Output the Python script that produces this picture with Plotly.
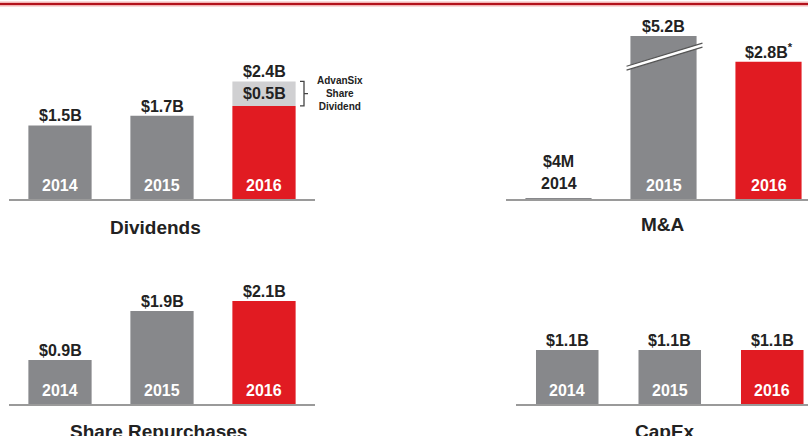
import pandas as pd
import numpy as np
import plotly.graph_objects as go
from typing import Dict

GREY = '#87888b'
RED = '#e11b22'
LIGHT_GREY = '#d0d0d2'
INK = '#222222'
FONT = 'Liberation Sans'
W, H = 808, 436
PX_PER_B = 49  # one scale for all four panels
Y_MAX = 163 / PX_PER_B

# Where each panel sits on the slide (pixels)
PANELS: Dict[str, Dict] = {
    'Dividends': {'n': 1, 'px': (9, 315), 'base': 199, 'step': 102, 'width': 0.62, 'title': (155, 227)},
    'M&A': {'n': 2, 'px': (506, 808), 'base': 199, 'step': 105, 'width': 0.63, 'title': (663, 225)},
    'Share Repurchases': {'n': 3, 'px': (9, 315), 'base': 404, 'step': 102, 'width': 0.62, 'title': (158, 431)},
    'CapEx': {'n': 4, 'px': (516, 808), 'base': 404, 'step': 102.5, 'width': 0.61, 'title': (665, 431)},
}


def build_data() -> pd.DataFrame:
    """
    Build the cash deployment table read off the slide.

    Returns:
        DataFrame with one row per panel and year (values in $B)
    """
    return pd.DataFrame({
        'panel': ['Dividends'] * 3 + ['M&A'] * 3 + ['Share Repurchases'] * 3 + ['CapEx'] * 3,
        'year': ['2014', '2015', '2016'] * 4,
        'value': [1.5, 1.7, 2.4, 0.004, 5.2, 2.8, 0.9, 1.9, 2.1, 1.1, 1.1, 1.1],
        'extra': [0, 0, 0.5, 0, 0, 0, 0, 0, 0, 0, 0, 0],  # AdvanSix share dividend
        'label': ['$1.5B', '$1.7B', '$2.4B', '$4M', '$5.2B', '$2.8B<sup>*</sup>',
                  '$0.9B', '$1.9B', '$2.1B', '$1.1B', '$1.1B', '$1.1B'],
    })


def label(fig: go.Figure, text: str, x, y, xref: str, yref: str, size: int = 16,
          color: str = INK, yanchor: str = 'bottom', yshift: float = 0) -> None:
    """Add one bold text label."""
    fig.add_annotation(
        x=x, y=y, xref=xref, yref=yref, text=text, showarrow=False,
        xanchor='center', yanchor=yanchor, yshift=yshift,
        font=dict(family=FONT, size=size, color=color, weight='bold')
    )


def add_panel(fig: go.Figure, df: pd.DataFrame, name: str, cfg: Dict) -> None:
    """
    Draw one panel of bars with its labels and title.

    Args:
        fig: Figure to draw on
        df: Rows of this panel
        name: Panel title
        cfg: Placement of the panel
    """
    n = cfg['n']
    xa, ya = ('x', 'y') if n == 1 else (f'x{n}', f'y{n}')
    pos = np.arange(len(df))
    colors = [RED if yr == '2016' else GREY for yr in df['year']]
    main = df['value'].values - df['extra'].values

    fig.add_trace(go.Bar(
        x=pos, y=main, width=cfg['width'], marker=dict(color=colors, line_width=0),
        xaxis=xa, yaxis=ya, showlegend=False, hoverinfo='skip'
    ))
    if df['extra'].sum() > 0:
        fig.add_trace(go.Bar(
            x=pos, y=df['extra'].values, base=main, width=cfg['width'],
            marker=dict(color=LIGHT_GREY, line_width=0),
            xaxis=xa, yaxis=ya, showlegend=False, hoverinfo='skip'
        ))
        for p, m, e in zip(pos, main, df['extra'].values):
            if e > 0:
                label(fig, f'${e:.1f}B', p, m + e / 2, xa, ya, yanchor='middle')

    # Value labels above bars, years inside bars
    for p, v, yr, txt in zip(pos, df['value'], df['year'], df['label']):
        top = min(v, Y_MAX)
        if v < 0.3:
            label(fig, yr, p, top, xa, ya, yshift=5)
            label(fig, txt, p, top, xa, ya, yshift=27)
        else:
            label(fig, yr, p, 0, xa, ya, color='white', yshift=3)
            label(fig, txt, p, top, xa, ya, yshift=-1)

    px0, px1 = cfg['px']
    base = cfg['base']
    fig.update_layout(**{
        ('xaxis' if n == 1 else f'xaxis{n}'): dict(
            domain=[px0 / W, px1 / W], range=[-0.5, -0.5 + (px1 - px0) / cfg['step']],
            showline=True, linecolor='#9a9a9a', linewidth=1.5, showgrid=False,
            zeroline=False, showticklabels=False, ticks='', anchor=ya, fixedrange=True
        ),
        ('yaxis' if n == 1 else f'yaxis{n}'): dict(
            domain=[1 - base / H, 1 - (base - Y_MAX * PX_PER_B) / H], range=[0, Y_MAX],
            visible=False, anchor=xa, fixedrange=True
        ),
    })

    tx, ty = cfg['title']
    label(fig, name, tx / W, 1 - ty / H, 'paper', 'paper', size=19, yanchor='middle')


def add_decorations(fig: go.Figure) -> None:
    """Slide header rule, AdvanSix bracket and the axis break on 2015 M&A."""
    fig.add_shape(type='line', xref='paper', yref='paper', x0=0, x1=1,
                  y0=1 - 4 / H, y1=1 - 4 / H, line=dict(color='#f3b5b5', width=5))
    fig.add_shape(type='line', xref='paper', yref='paper', x0=0, x1=1,
                  y0=1 - 4 / H, y1=1 - 4 / H, line=dict(color='#b3121c', width=2))

    # Curly bracket next to the AdvanSix segment
    cfg = PANELS['Dividends']
    fx = lambda px: (px - cfg['px'][0]) / (cfg['px'][1] - cfg['px'][0])
    top, bot = 2.4 / Y_MAX, 1.9 / Y_MAX
    mid = (top + bot) / 2
    fig.add_shape(
        type='path', xref='x domain', yref='y domain',
        path=(f'M {fx(300)},{top} L {fx(304)},{top} L {fx(304)},{bot} L {fx(300)},{bot} '
              f'M {fx(304)},{mid} L {fx(308)},{mid}'),
        line=dict(color='#444444', width=1.3)
    )
    label(fig, 'AdvanSix<br>Share<br>Dividend', fx(340), 2.15, 'x domain', 'y',
          size=10, yanchor='middle')

    # Break marks on the 2015 M&A bar
    fig.add_shape(type='path', xref='x2', yref='y2',
                  path='M 0.648,2.63 L 1.371,3.10 L 1.371,3.18 L 0.648,2.71 Z',
                  fillcolor='white', line_width=0)
    for y0, y1 in [(2.63, 3.10), (2.71, 3.18)]:
        fig.add_shape(type='line', xref='x2', yref='y2', x0=0.648, x1=1.371,
                      y0=y0, y1=y1, line=dict(color='#555555', width=1.2))


df = build_data()
fig = go.Figure()
for name, cfg in PANELS.items():
    add_panel(fig, df[df['panel'] == name].reset_index(drop=True), name, cfg)
add_decorations(fig)

fig.update_layout(
    width=W, height=H, margin=dict(l=0, r=0, t=0, b=0),
    plot_bgcolor='white', paper_bgcolor='white', barmode='overlay',
    font=dict(family=FONT, color=INK)
)
fig.write_html('out.html', config={'displayModeBar': False},
               post_script="document.body.style.margin = '0';")  # page fills the window
